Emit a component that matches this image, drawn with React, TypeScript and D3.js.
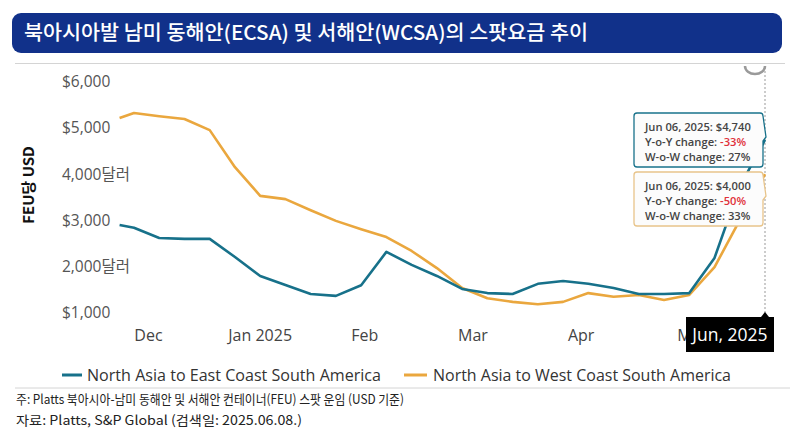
import * as React from 'react';
import {scaleLinear, scaleTime, line, timeParse} from 'd3';

const width = 806;
const height = 440;

const dates = [
  '2024-12-09', '2024-12-13', '2024-12-20', '2024-12-27', '2025-01-03', '2025-01-10',
  '2025-01-17', '2025-01-24', '2025-01-31', '2025-02-07', '2025-02-14', '2025-02-21',
  '2025-02-28', '2025-03-07', '2025-03-14', '2025-03-21', '2025-03-28', '2025-04-04',
  '2025-04-11', '2025-04-18', '2025-04-25', '2025-05-02', '2025-05-09', '2025-05-16',
  '2025-05-23', '2025-05-30', '2025-06-06',
];
const ecsa = [
  2900, 2840, 2620, 2600, 2600, 2210, 1800, 1605, 1410, 1370, 1600, 2320, 2040, 1800,
  1520, 1430, 1410, 1630, 1690, 1630, 1540, 1410, 1410, 1430, 2190, 3730, 4740,
];
const wcsa = [
  5210, 5320, 5250, 5190, 4950, 4150, 3530, 3460, 3220, 2990, 2810, 2640, 2340, 1970,
  1540, 1320, 1240, 1190, 1240, 1430, 1350, 1390, 1280, 1390, 1990, 3008, 4000,
];
const yTicks = [1000, 2000, 3000, 4000, 5000, 6000];
const yTickLabels = ['$1,000', '2,000달러', '$3,000', '4,000달러', '$5,000', '$6,000'];
const monthTicks = ['2024-12-17', '2025-01-17', '2025-02-15', '2025-03-17', '2025-04-16', '2025-05-17'];
const monthLabels = ['Dec', 'Jan 2025', 'Feb', 'Mar', 'Apr', 'May'];
const seriesNames = ['North Asia to East Coast South America', 'North Asia to West Coast South America'];
const tipTeal = ['Jun 06, 2025: $4,740', '-33%', '27%'];
const tipOrange = ['Jun 06, 2025: $4,000', '-50%', '33%'];

const parse = timeParse('%Y-%m-%d');
const teal = '#17718a';
const orange = '#eaa73e';
const font = '"Open Sans", "Noto Sans CJK KR", sans-serif';

const xScale = scaleTime()
  .domain([parse('2024-12-13') as Date, parse('2025-06-06') as Date])
  .range([134, 765]);
const yScale = scaleLinear().domain([1000, 6000]).range([313, 81.5]);

const lineGen = line<number>()
  .x((_, i) => xScale(parse(dates[i]) as Date))
  .y(d => yScale(d));

function Tooltip({x, y, color, lines}: {x: number; y: number; color: string; lines: string[]}) {
  const w = 126;
  const h = 54;
  const left = x - w - 3;
  return (
    <g fontFamily={font} fontSize={11.2} fontWeight={600} fill="#444">
      <path
        d={`M${left + 3},${y} H${x - 3} Q${x},${y} ${x},${y + 3} L${x + 3},${y + 24} L${x},${y + 28} V${y + h - 3} Q${x},${y + h} ${x - 3},${y + h} H${left + 3} Q${left},${y + h} ${left},${y + h - 3} V${y + 3} Q${left},${y} ${left + 3},${y} Z`}
        fill="#fcfcfc"
        stroke={color}
        strokeWidth={1.3}
      />
      <text x={left + 11} y={y + 18}>{lines[0]}</text>
      <text x={left + 11} y={y + 33}>Y-o-Y change: <tspan fill="#e0303a">{lines[1]}</tspan></text>
      <text x={left + 11} y={y + 48}>W-o-W change: {lines[2]}</text>
    </g>
  );
}

export default function App() {
  const lastX = xScale(parse(dates[dates.length - 1]) as Date);
  return (
    <div style={{position: 'absolute', left: 0, top: 0}}>
      <svg width={width} height={height} style={{display: 'block', background: '#fff'}}>
        <rect x={12} y={13} width={770} height={40} rx={9} fill="#11318a" />
        <text
          x={24}
          y={40}
          fill="#fff"
          fontFamily='"Noto Sans CJK KR", sans-serif'
          fontSize={20}
          fontWeight={500}
          textLength={564}
          lengthAdjust="spacingAndGlyphs"
        >
          북아시아발 남미 동해안(ECSA) 및 서해안(WCSA)의 스팟요금 추이
        </text>
        <line x1={15} x2={785} y1={63.5} y2={63.5} stroke="#d4d4d4" />
        <path d="M745,66 A10,8 0 0 0 765,66" fill="none" stroke="#9a9a9a" strokeWidth={2.5} />

        <text
          transform="translate(34,185) rotate(-90)"
          textAnchor="middle"
          fontFamily='"Noto Sans CJK KR", sans-serif'
          fontWeight={700}
          fontSize={15}
          fill="#111"
        >
          FEU당 USD
        </text>
        {yTicks.map((t, i) => (
          <text key={t} x={62} y={yScale(t)} dy="0.35em" fontFamily={font} fontSize={15.5} fill="#555">
            {yTickLabels[i]}
          </text>
        ))}
        {monthTicks.map((d, i) => (
          <text
            key={d}
            x={xScale(parse(d) as Date)}
            y={341}
            textAnchor="middle"
            fontFamily={font}
            fontSize={16}
            fill="#444"
          >
            {monthLabels[i]}
          </text>
        ))}

        <line x1={lastX} x2={lastX} y1={67} y2={313} stroke="#999" strokeDasharray="2,2" />
        <path d={lineGen(wcsa) || ''} fill="none" stroke={orange} strokeWidth={2.6} strokeLinejoin="round" />
        <path d={lineGen(ecsa) || ''} fill="none" stroke={teal} strokeWidth={2.6} strokeLinejoin="round" />

        <Tooltip x={lastX - 2} y={113} color={teal} lines={tipTeal} />
        <Tooltip x={lastX - 2} y={172} color="#e8c48a" lines={tipOrange} />

        <rect x={686} y={317} width={88} height={35} fill="#000" />
        <path d={`M${lastX - 4},317 L${lastX},312 L${lastX + 4},317 Z`} fill="#000" />
        <text x={730} y={341} textAnchor="middle" fontFamily={font} fontSize={17.5} fill="#fff">
          Jun, 2025
        </text>

        <line x1={62} x2={82} y1={375} y2={375} stroke={teal} strokeWidth={3} />
        <text x={87} y={381} fontFamily={font} fontSize={17} fill="#333" textLength={294} lengthAdjust="spacingAndGlyphs">
          {seriesNames[0]}
        </text>
        <line x1={404} x2={427} y1={375} y2={375} stroke={orange} strokeWidth={3} />
        <text x={433} y={381} fontFamily={font} fontSize={17} fill="#333" textLength={298} lengthAdjust="spacingAndGlyphs">
          {seriesNames[1]}
        </text>
        <line x1={15} x2={790} y1={388} y2={388} stroke="#d4d4d4" />

        <g fontFamily='"Noto Sans CJK KR", sans-serif' fontSize={13} fill="#222">
          <text x={16} y={404} textLength={388} lengthAdjust="spacingAndGlyphs">
            주: Platts 북아시아-남미 동해안 및 서해안 컨테이너(FEU) 스팟 운임 (USD 기준)
          </text>
          <text x={16} y={425} textLength={286} lengthAdjust="spacingAndGlyphs">
            자료:  Platts, S&amp;P Global (검색일: 2025.06.08.)
          </text>
        </g>
      </svg>
    </div>
  );
}
